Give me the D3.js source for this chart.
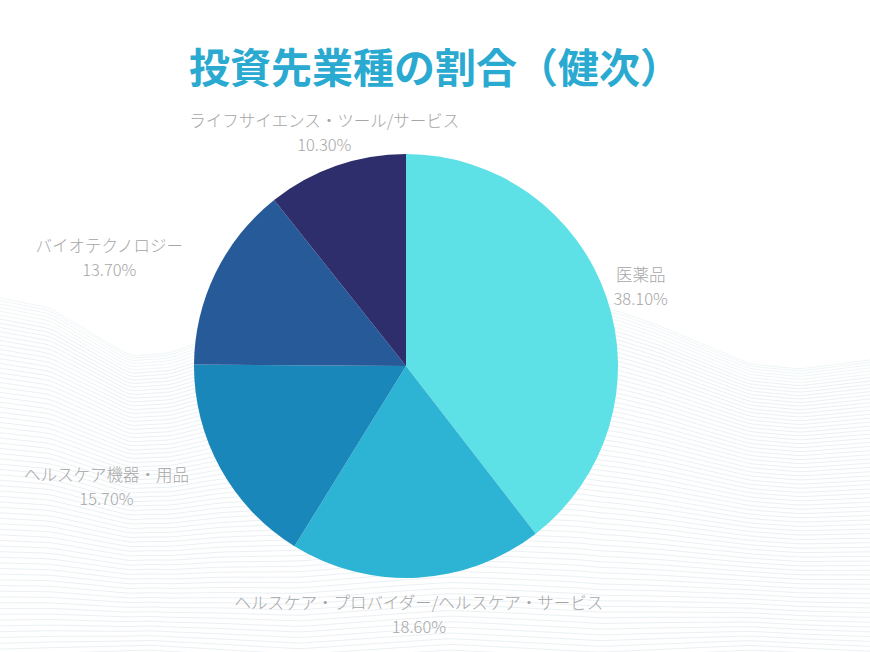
<!DOCTYPE html>
<html><head><meta charset="utf-8">
<script src="https://cdn.jsdelivr.net/npm/d3@7"></script>
<style>
html,body{margin:0;padding:0;background:#fff;}
svg{display:block;font-family:"Noto Sans CJK JP","Noto Sans",sans-serif;}
</style></head>
<body>
<svg id="chart" width="870" height="652"></svg>
<script>
const categories = ["医薬品","ヘルスケア・プロバイダー/ヘルスケア・サービス","ヘルスケア機器・用品","バイオテクノロジー","ライフサイエンス・ツール/サービス"];
const values = [38.1, 18.6, 15.7, 13.7, 10.3];
const valueLabels = ["38.10%","18.60%","15.70%","13.70%","10.30%"];
const colors = ["#5de1e6","#2db3d4","#1a87ba","#275a98","#2d2e6b"];
const title = "投資先業種の割合（健次）";

// decorative background wave: top edge points
const waveTop = [[0,298],[50,308],[100,338],[130,356],[170,353],[220,335],[300,318],[400,305],[500,300],[580,302],[620,312],[660,326],[700,343],[750,364],[800,369],[870,360]];
const waveBottom = [[0,655],[150,650],[300,660],[450,650],[600,658],[750,650],[870,656]];

const W = 870, H = 652;
const svg = d3.select("#chart");

// background lines
const interp = pts => { const xs = pts.map(p=>p[0]), ys = pts.map(p=>p[1]);
  const s = d3.scaleLinear().domain(xs).range(ys); return x => s(x); };
const topF = interp(waveTop), botF = interp(waveBottom);
const xsSample = d3.range(0, W+1, 10);
const lineGen = d3.line().curve(d3.curveBasis);
const bg = svg.append("g");
const N = 70;
for (let i = 0; i <= N; i++) {
  const t = Math.pow(i / N, 1.15);
  const pts = xsSample.map(x => [x, topF(x) * (1 - t) + botF(x) * t]);
  bg.append("path").attr("d", lineGen(pts)).attr("fill","none")
    .attr("stroke", i < 6 ? "#ebf2f4" : "#e5ecf0").attr("stroke-width", 0.8);
}

// title
svg.append("text").attr("x", W/2).attr("y", 65).attr("text-anchor","middle")
  .attr("dominant-baseline","central").attr("font-size", 41).attr("font-weight", 700)
  .attr("fill", "#2aaad0").text(title);

// pie
const cx = 406, cy = 366, R = 212, RL = 248;
const pie = d3.pie().sort(null).value(d => d);
const arcs = pie(values);
const arc = d3.arc().innerRadius(0).outerRadius(R);
const g = svg.append("g").attr("transform", `translate(${cx},${cy})`);
g.selectAll("path").data(arcs).enter().append("path")
  .attr("d", arc).attr("fill", (d,i) => colors[i]);

// labels
const lg = svg.append("g").attr("font-size", 16.5).attr("font-weight", 300).attr("fill", "#a6a6a6");
arcs.forEach((d, i) => {
  const a = (d.startAngle + d.endAngle) / 2;
  let px = cx + Math.sin(a) * RL, py = cy - Math.cos(a) * RL;
  const grp = lg.append("g");
  const lines = [categories[i], valueLabels[i]];
  const lineH = 24;
  const ts = lines.map((s, k) => grp.append("text").attr("text-anchor","middle")
    .attr("dominant-baseline","central").attr("y", py + (k - 0.5) * lineH).text(s));
  const w = d3.max(ts.map(t => t.node().getComputedTextLength()));
  const h = lineH * 2;
  let bx = px;
  // check overlap of centered block with the pie
  const rx0 = px - w/2, rx1 = px + w/2, ry0 = py - h/2 + 4, ry1 = py + h/2 - 4;
  const nx = Math.max(rx0, Math.min(cx, rx1)), ny = Math.max(ry0, Math.min(cy, ry1));
  if (Math.hypot(nx - cx, ny - cy) < R) {
    bx = px < cx ? px - w/2 : px + w/2;
  }
  ts.forEach(t => t.attr("x", bx));
});
</script>
</body></html>
